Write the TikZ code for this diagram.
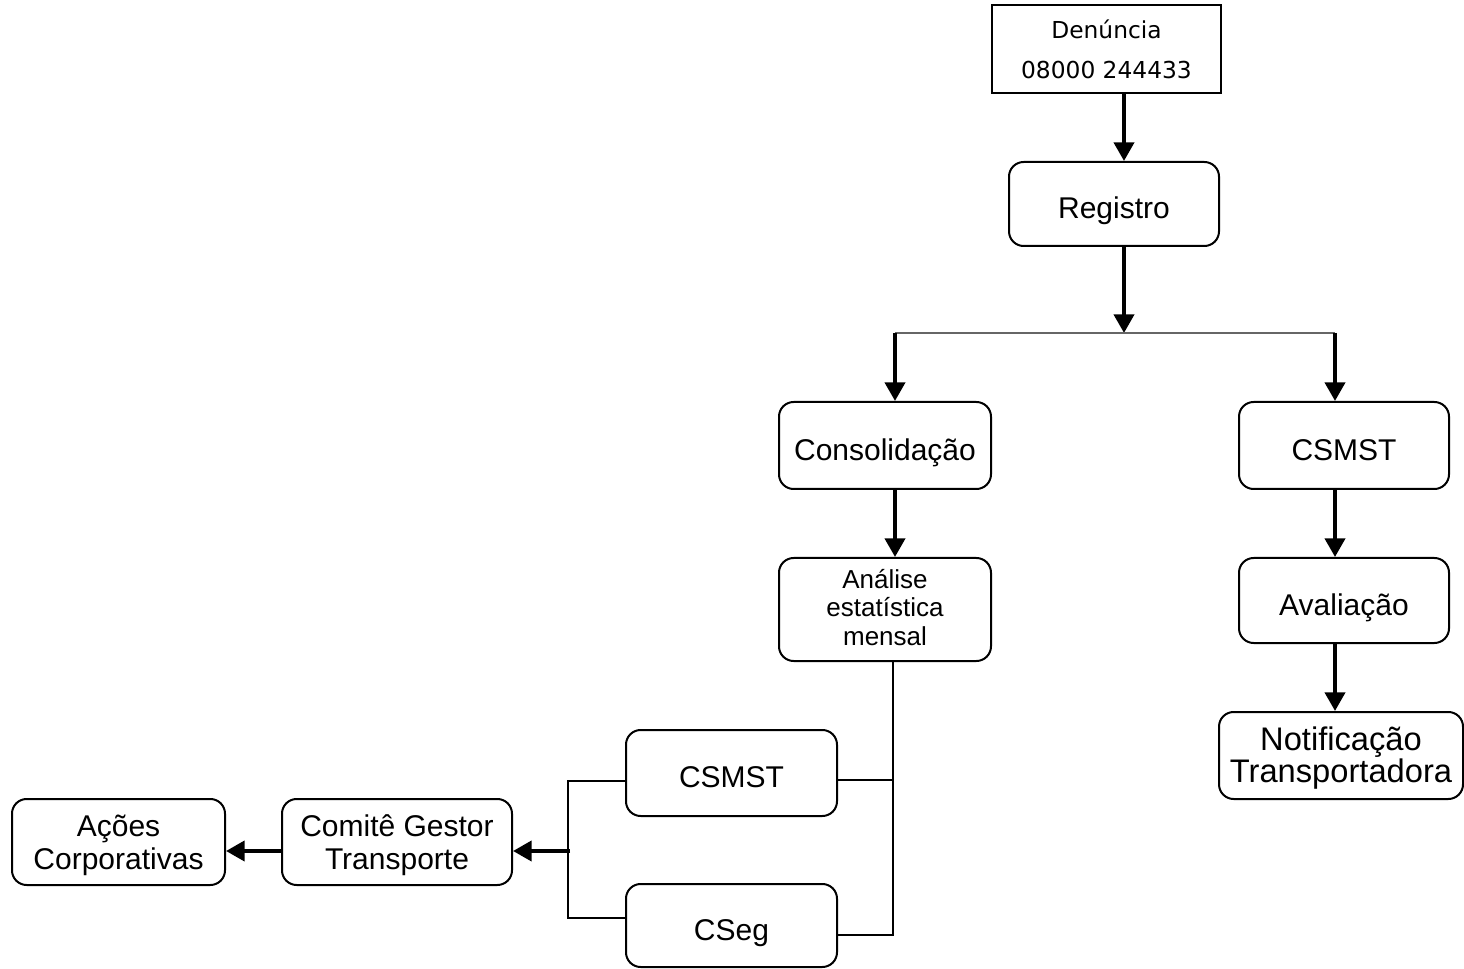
\documentclass[tikz,border=0pt]{standalone}
\usepackage{fontspec}
\setmainfont{Liberation Sans}
\newfontfamily\dejavu{DejaVu Sans}
\usetikzlibrary{arrows.meta}
\begin{document}
\begin{tikzpicture}[x=0.75pt,y=-0.75pt,
  box/.style={draw,line width=1.5pt,rounded corners=11pt,align=center,inner sep=0pt,
    font=\fontsize{22.5}{24.75}\selectfont,
    execute at end node={\rule[-0.25em]{0pt}{0pt}}},
  box1/.style={box,execute at begin node={\rule{0pt}{\dimexpr0.966em+6pt\relax}}},
  box2/.style={box,execute at begin node={\rule{0pt}{\dimexpr0.966em+\baselineskip+1pt\relax}}},
  box3/.style={box,execute at begin node={\rule{0pt}{\dimexpr0.966em+2\baselineskip-3pt\relax}}},
  sqbox/.style={draw,line width=1.5pt,align=center,inner sep=0pt,
    font=\dejavu\fontsize{17.5}{30}\selectfont},
  arr/.style={line width=3pt,-{Triangle[length=14pt,width=15pt]}},
  thinln/.style={line width=1.1pt},
  grayln/.style={line width=1.1pt,draw=black!60}]
\useasboundingbox (0,0) rectangle (1464,969);
\node[sqbox,minimum width={229*0.75pt},minimum height={88*0.75pt}] (Den) at (1106.5,49) {Denúncia\\08000 244433};
\node[box1,minimum width={210*0.75pt},minimum height={84*0.75pt}] (Reg) at (1114,204) {Registro};
\node[box1,minimum width={212*0.75pt},minimum height={87*0.75pt}] (Con) at (885,445.5) {Consolidação};
\node[box1,minimum width={210*0.75pt},minimum height={87*0.75pt}] (CS1) at (1344,445.5) {CSMST};
\node[box3,minimum width={212*0.75pt},minimum height={103*0.75pt},font=\fontsize{19.5}{21.5}\selectfont] (Ana) at (885,609.5) {Análise\\estatística\\mensal};
\node[box1,minimum width={210*0.75pt},minimum height={85*0.75pt}] (Ava) at (1344,600.5) {Avaliação};
\node[box2,minimum width={244*0.75pt},minimum height={87*0.75pt},font=\fontsize{24.5}{21.25}\selectfont] (Not) at (1341,755.5) {Notificação\\Transportadora};
\node[box1,minimum width={211*0.75pt},minimum height={86*0.75pt}] (CS2) at (731.5,773) {CSMST};
\node[box1,minimum width={211*0.75pt},minimum height={83*0.75pt}] (CSeg) at (731.5,925.5) {CSeg};
\node[box2,minimum width={230*0.75pt},minimum height={86*0.75pt}] (Com) at (397,842) {Comitê Gestor\\Transporte};
\node[box2,minimum width={213*0.75pt},minimum height={86*0.75pt}] (Aco) at (118.5,842) {Ações\\Corporativas};
% top chain
\coordinate (X1) at (1124,0);
\coordinate (J) at (1124,333);
\coordinate (JL) at (895,333);
\coordinate (JR) at (1335,333);
\draw[arr] (Den.south -| X1) -- (Reg.north -| X1);
\draw[arr] (Reg.south -| J) -- (J);
\draw[grayln] (JL) -- (JR);
\draw[arr] (JL) -- (Con.north -| JL);
\draw[arr] (JR) -- (CS1.north -| JR);
\draw[arr] (Con.south -| JL) -- (Ana.north -| JL);
\draw[arr] (CS1.south -| JR) -- (Ava.north -| JR);
\draw[arr] (Ava.south -| JR) -- (Not.north -| JR);
% right bracket
\coordinate (V1) at (893,780);
\coordinate (V2) at (893,935);
\draw[thinln] (Ana.south -| V1) -- (V2) -- (V2 -| CSeg.east);
\draw[thinln] (V1) -- (V1 -| CS2.east);
% left bracket
\coordinate (B1) at (568,781);
\coordinate (B2) at (568,918);
\coordinate (B3) at (570,851);
\draw[thinln] (B1 -| CS2.west) -- (B1) -- (B2) -- (B2 -| CSeg.west);
\draw[arr] (B3) -- (Com.east |- B3);
\draw[arr] (Com.west |- B3) -- (Aco.east |- B3);
\end{tikzpicture}
\end{document}
